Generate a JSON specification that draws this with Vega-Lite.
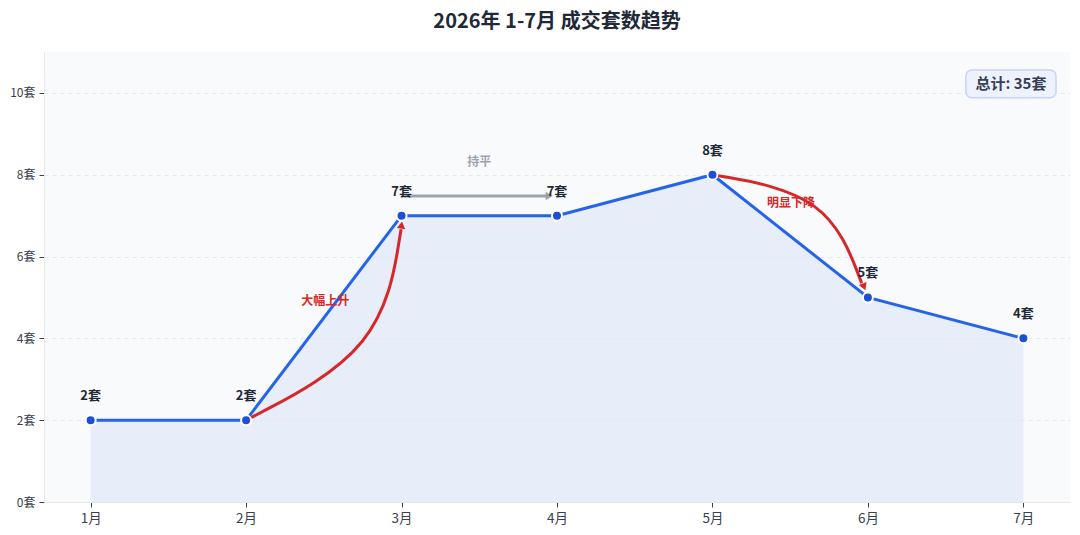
{
  "$schema": "https://vega.github.io/schema/vega-lite/v6.json",
  "width": 1026,
  "height": 450,
  "autosize": "none",
  "padding": {"left": 44, "top": 52, "right": 10, "bottom": 33},
  "background": "#ffffff",
  "title": {
    "text": "2026年 1-7月 成交套数趋势",
    "font": "Noto Sans CJK SC",
    "fontSize": 20,
    "fontWeight": "bold",
    "color": "#1f2937",
    "anchor": "middle",
    "offset": 20
  },
  "config": {
    "font": "Noto Sans CJK SC",
    "view": {"fill": "#f8fafc", "stroke": null}
  },
  "datasets": {
    "sales": [
      {"month": 1, "count": 2},
      {"month": 2, "count": 2},
      {"month": 3, "count": 7},
      {"month": 4, "count": 7},
      {"month": 5, "count": 8},
      {"month": 6, "count": 5},
      {"month": 7, "count": 4}
    ],
    "rise": [
      {"x": 2.0, "y": 2.0},
      {"x": 2.87, "y": 3.72},
      {"x": 2.997, "y": 6.67}
    ],
    "fall": [
      {"x": 5.0, "y": 8.0},
      {"x": 5.74, "y": 7.51},
      {"x": 5.96, "y": 5.35}
    ],
    "flat": [
      {"x": 3.02, "y": 7.48},
      {"x": 3.94, "y": 7.48}
    ],
    "heads": [
      {"x": 3.0, "y": 6.77, "shape": "triangle-up", "angle": 8, "kind": "red"},
      {"x": 5.975, "y": 5.26, "shape": "triangle-down", "angle": -22, "kind": "red"},
      {"x": 3.95, "y": 7.48, "shape": "triangle-right", "angle": 0, "kind": "grey"}
    ],
    "notes": [
      {"x": 2.51, "y": 4.91, "label": "大幅上升", "kind": "red"},
      {"x": 5.505, "y": 7.31, "label": "明显下降", "kind": "red"},
      {"x": 3.5, "y": 8.31, "label": "持平", "kind": "grey"}
    ],
    "total": [
      {"x": 6.63, "x2": 7.21, "y": 10.56, "y2": 9.88, "cx": 6.92, "cy": 10.22, "label": "总计: 35套"}
    ]
  },
  "layer": [
    {
      "data": {"name": "sales"},
      "mark": {"type": "area", "color": "#e0e7f8", "opacity": 0.7, "line": {"color": "#dbe3f3", "strokeWidth": 1}},
      "encoding": {
        "x": {
          "field": "month",
          "type": "quantitative",
          "scale": {"domain": [0.7, 7.3], "nice": false, "zero": false},
          "axis": {
            "values": [1, 2, 3, 4, 5, 6, 7],
            "labelExpr": "datum.value + '月'",
            "title": null,
            "grid": false,
            "domainColor": "#e5e7eb",
            "tickColor": "#374151",
            "tickSize": 5,
            "labelFontSize": 13.5,
            "labelColor": "#374151",
            "labelPadding": 4
          }
        },
        "y": {
          "field": "count",
          "type": "quantitative",
          "scale": {"domain": [0, 11], "nice": false},
          "axis": {
            "values": [0, 2, 4, 6, 8, 10],
            "labelExpr": "datum.value + '套'",
            "title": null,
            "gridColor": "#e5e7eb",
            "gridDash": [4, 4],
            "domainColor": "#e5e7eb",
            "tickColor": "#374151",
            "tickSize": 5,
            "labelFontSize": 12,
            "labelColor": "#374151",
            "labelPadding": 4
          }
        }
      }
    },
    {
      "data": {"name": "sales"},
      "mark": {"type": "line", "color": "#2563eb", "strokeWidth": 3},
      "encoding": {
        "x": {"field": "month", "type": "quantitative"},
        "y": {"field": "count", "type": "quantitative"}
      }
    },
    {
      "data": {"name": "flat"},
      "mark": {"type": "line", "color": "#9ca3af", "strokeWidth": 3},
      "encoding": {
        "x": {"field": "x", "type": "quantitative"},
        "y": {"field": "y", "type": "quantitative"}
      }
    },
    {
      "data": {"name": "rise"},
      "mark": {"type": "line", "color": "#d62828", "strokeWidth": 3, "interpolate": "basis"},
      "encoding": {
        "x": {"field": "x", "type": "quantitative"},
        "y": {"field": "y", "type": "quantitative"}
      }
    },
    {
      "data": {"name": "fall"},
      "mark": {"type": "line", "color": "#d62828", "strokeWidth": 3, "interpolate": "basis"},
      "encoding": {
        "x": {"field": "x", "type": "quantitative"},
        "y": {"field": "y", "type": "quantitative"}
      }
    },
    {
      "data": {"name": "heads"},
      "mark": {"type": "point", "filled": true, "size": 70, "opacity": 1},
      "encoding": {
        "x": {"field": "x", "type": "quantitative"},
        "y": {"field": "y", "type": "quantitative"},
        "shape": {"field": "shape", "type": "nominal", "scale": null},
        "angle": {"field": "angle", "type": "quantitative", "scale": null},
        "color": {
          "field": "kind",
          "type": "nominal",
          "scale": {"domain": ["red", "grey"], "range": ["#d62828", "#9ca3af"]},
          "legend": null
        }
      }
    },
    {
      "data": {"name": "sales"},
      "mark": {"type": "point", "filled": true, "size": 100, "color": "#1d4ed8", "stroke": "#ffffff", "strokeWidth": 2, "opacity": 1},
      "encoding": {
        "x": {"field": "month", "type": "quantitative"},
        "y": {"field": "count", "type": "quantitative"}
      }
    },
    {
      "data": {"name": "sales"},
      "transform": [{"calculate": "datum.count + '套'", "as": "label"}],
      "mark": {"type": "text", "dy": -24, "fontSize": 13, "fontWeight": "bold", "color": "#1f2937"},
      "encoding": {
        "x": {"field": "month", "type": "quantitative"},
        "y": {"field": "count", "type": "quantitative"},
        "text": {"field": "label"}
      }
    },
    {
      "data": {"name": "notes"},
      "mark": {"type": "text", "fontSize": 12, "fontWeight": "bold"},
      "encoding": {
        "x": {"field": "x", "type": "quantitative"},
        "y": {"field": "y", "type": "quantitative"},
        "text": {"field": "label"},
        "color": {
          "field": "kind",
          "type": "nominal",
          "scale": {"domain": ["red", "grey"], "range": ["#dc2626", "#9aa5b4"]},
          "legend": null
        }
      }
    },
    {
      "data": {"name": "total"},
      "mark": {"type": "rect", "fill": "#eef2ff", "stroke": "#c7d2fe", "strokeWidth": 1.5, "cornerRadius": 6},
      "encoding": {
        "x": {"field": "x", "type": "quantitative"},
        "x2": {"field": "x2"},
        "y": {"field": "y", "type": "quantitative"},
        "y2": {"field": "y2"}
      }
    },
    {
      "data": {"name": "total"},
      "mark": {"type": "text", "fontSize": 15, "fontWeight": "bold", "color": "#374151"},
      "encoding": {
        "x": {"field": "cx", "type": "quantitative"},
        "y": {"field": "cy", "type": "quantitative"},
        "text": {"field": "label"}
      }
    }
  ]
}
